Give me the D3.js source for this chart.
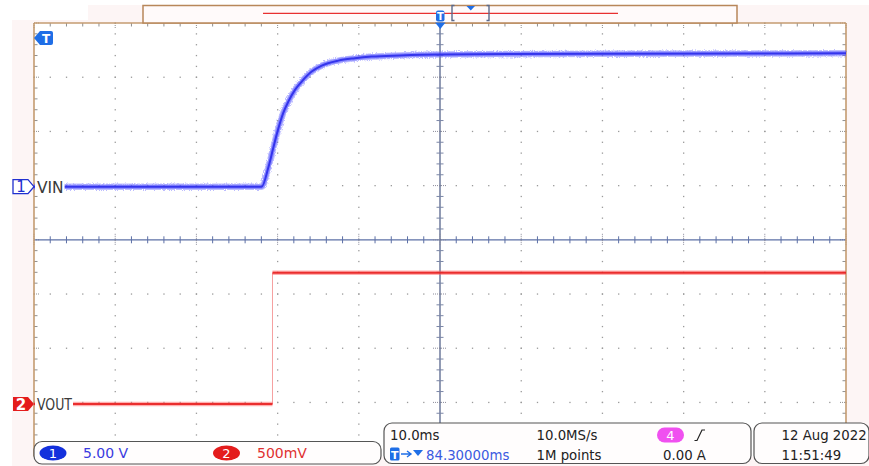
<!DOCTYPE html>
<html>
<head>
<meta charset="utf-8">
<script src="https://cdn.jsdelivr.net/npm/d3@7"></script>
<style>
  html, body { margin: 0; padding: 0; background: #ffffff; }
  svg { display: block; font-family: "DejaVu Sans", sans-serif; }
</style>
</head>
<body>
<svg id="scope" width="869" height="466"></svg>
<script>
// Acquisition window (ms): 10 ms/div, centre at 84.3 ms after trigger
const timeWindow = [34.3, 134.3];

// Channel 1 – VIN (5.00 V/div)
const vinTime  = [34.3, 62.34, 63.15, 63.77, 64.31, 65.0, 65.62, 66.44, 67.27, 68.5, 69.73, 71.78, 73.83, 75.89, 79.37, 84.3, 104.0, 134.3];
const vinVolts = [0, 0, 1.74, 3.59, 5.15, 6.81, 7.85, 8.93, 9.70, 10.62, 11.17, 11.63, 11.85, 12.0, 12.11, 12.2, 12.27, 12.3];

// Channel 2 – VOUT (500 mV/div)
const voutTime  = [34.3, 63.67, 63.67, 134.3];
const voutVolts = [0, 0, 1.21, 1.21];

// Channel names, scales and readouts
const channelNames  = ["VIN", "VOUT"];
const channelScales = ["5.00 V", "500mV"];
const voltsPerDiv   = [5, 0.5];
const channelOffset = [0.98, -3.03];   // divisions from centre

const timebaseText = ["10.0ms", "10.0MS/s"];
const delayText    = "84.30000ms";
const recordText   = "1M points";
const ch4Text      = "0.00 A";
const dateText     = ["12 Aug 2022", "11:51:49"];

const svg = d3.select("#scope");

// Graticule geometry: 10 x 8 divisions
const gLeft = 34, gRight = 846, gTop = 23, gBottom = 456.6;
const xDiv = d3.scaleLinear().domain([0, 10]).range([gLeft, gRight]);
const yDiv = d3.scaleLinear().domain([-4, 4]).range([gBottom, gTop]);
const x = d3.scaleLinear().domain(timeWindow).range([gLeft, gRight]);
const yCh = (ch) => (v) => yDiv(channelOffset[ch] + v / voltsPerDiv[ch]);

// Outer frame tint
svg.append("path")
  .attr("d", "M88,5 L869,5 L869,466 L12,466 L12,20 L88,20 Z")
  .attr("fill", "#fdf5f5");
svg.append("rect").attr("x", gLeft).attr("y", gTop)
  .attr("width", gRight - gLeft).attr("height", gBottom - gTop)
  .attr("fill", "#ffffff");

// Grid dots along the major divisions
const grid = svg.append("g");
const dotColor = "#9a9a9a";
for (let k = 1; k < 10; k++) {
  if (k === 5) continue;
  for (let j = 0; j <= 40; j++) {
    grid.append("rect").attr("x", xDiv(k) - 0.6).attr("y", yDiv(-4 + j / 5) - 0.6)
      .attr("width", 1.3).attr("height", 1.3).attr("fill", dotColor);
  }
}
for (let r = -3; r <= 3; r++) {
  if (r === 0) continue;
  for (let i = 0; i <= 50; i++) {
    grid.append("rect").attr("x", xDiv(i / 5) - 0.6).attr("y", yDiv(r) - 0.6)
      .attr("width", 1.3).attr("height", 1.3).attr("fill", dotColor);
  }
}

// Border ticks
const tickColor = "#8f8f8f";
for (let i = 0; i <= 50; i++) {
  const major = i % 5 === 0;
  grid.append("line").attr("x1", xDiv(i / 5)).attr("x2", xDiv(i / 5))
    .attr("y1", gTop).attr("y2", gTop + (major ? 6 : 3.5))
    .attr("stroke", tickColor).attr("stroke-width", 1)
    .attr("stroke-dasharray", major ? "1,1" : null);
}
for (let j = 0; j <= 40; j++) {
  const yy = yDiv(-4 + j / 5);
  const major = j % 5 === 0;
  grid.append("line").attr("x1", gLeft).attr("x2", gLeft + (major ? 6 : 3.5))
    .attr("y1", yy).attr("y2", yy).attr("stroke", tickColor).attr("stroke-width", 1)
    .attr("stroke-dasharray", major ? "1,1" : null);
  grid.append("line").attr("x1", gRight - (major ? 6 : 3.5)).attr("x2", gRight)
    .attr("y1", yy).attr("y2", yy).attr("stroke", tickColor).attr("stroke-width", 1)
    .attr("stroke-dasharray", major ? "1,1" : null);
}

// Centre axes with minor ticks
const axisColor = "#5d70a6";
const cx = xDiv(5), cy = yDiv(0);
grid.append("line").attr("x1", gLeft).attr("x2", gRight).attr("y1", cy).attr("y2", cy)
  .attr("stroke", axisColor).attr("stroke-width", 1.2);
grid.append("line").attr("x1", cx).attr("x2", cx).attr("y1", gTop).attr("y2", gBottom)
  .attr("stroke", "#56658c").attr("stroke-width", 1.3);
for (let i = 0; i <= 50; i++) {
  const major = i % 5 === 0;
  grid.append("line").attr("x1", xDiv(i / 5)).attr("x2", xDiv(i / 5))
    .attr("y1", cy - (major ? 6 : 3.5)).attr("y2", cy + (major ? 6 : 3.5))
    .attr("stroke", major ? "#8a8a9a" : axisColor).attr("stroke-width", 1)
    .attr("stroke-dasharray", major ? "1,1" : null);
}
for (let j = 0; j <= 40; j++) {
  const yy = yDiv(-4 + j / 5);
  const major = j % 5 === 0;
  grid.append("line").attr("x1", cx - (major ? 7 : 3.5)).attr("x2", cx + (major ? 7 : 3.5))
    .attr("y1", yy).attr("y2", yy)
    .attr("stroke", major ? "#8a8a9a" : "#7a86a6").attr("stroke-width", 1)
    .attr("stroke-dasharray", major ? "1,1" : null);
}

// Graticule border
const frameColor = "#c49b70";
svg.append("line").attr("x1", gLeft).attr("x2", gRight).attr("y1", gTop).attr("y2", gTop)
  .attr("stroke", frameColor).attr("stroke-width", 1.6);
svg.append("line").attr("x1", gLeft).attr("x2", gLeft).attr("y1", gTop).attr("y2", gBottom)
  .attr("stroke", frameColor).attr("stroke-width", 1.6);
svg.append("line").attr("x1", gRight).attr("x2", gRight).attr("y1", gTop).attr("y2", gBottom)
  .attr("stroke", frameColor).attr("stroke-width", 1.6);

// Noisy trace texture
const defs = svg.append("defs");
const f = defs.append("filter").attr("id", "grain").attr("x", "-5%").attr("y", "-20%")
  .attr("width", "110%").attr("height", "140%");
f.append("feTurbulence").attr("type", "fractalNoise").attr("baseFrequency", "1.1 0.7")
  .attr("numOctaves", 1).attr("seed", 3).attr("result", "n");
f.append("feDisplacementMap").attr("in", "SourceGraphic").attr("in2", "n")
  .attr("scale", 4.5).attr("xChannelSelector", "R").attr("yChannelSelector", "G");

// Draw a trace: horizontal/ramp segments thick, instantaneous steps as a thin line
function drawTrace(times, volts, ch, core, halo, stepColor) {
  const yS = yCh(ch);
  const pts = times.map((t, i) => [x(t), yS(volts[i])]);
  const pieces = [];
  let cur = [pts[0]];
  for (let i = 1; i < pts.length; i++) {
    if (times[i] === times[i - 1]) {
      svg.append("line").attr("x1", pts[i - 1][0]).attr("x2", pts[i][0])
        .attr("y1", pts[i - 1][1]).attr("y2", pts[i][1])
        .attr("stroke", stepColor).attr("stroke-width", 1);
      pieces.push(cur); cur = [pts[i]];
    } else cur.push(pts[i]);
  }
  pieces.push(cur);
  const line = d3.line().curve(d3.curveMonotoneX);
  const g = svg.append("g");
  pieces.forEach(p => {
    g.append("path").attr("d", line(p)).attr("fill", "none")
      .attr("stroke", halo).attr("stroke-width", 6.5).attr("stroke-opacity", 0.4)
      .attr("filter", "url(#grain)");
    g.append("path").attr("d", line(p)).attr("fill", "none")
      .attr("stroke", halo).attr("stroke-width", 4.5).attr("stroke-opacity", 0.5);
    g.append("path").attr("d", line(p)).attr("fill", "none")
      .attr("stroke", core).attr("stroke-width", 2).attr("stroke-opacity", 0.9);
  });
}
drawTrace(vinTime, vinVolts, 0, "#2a2aea", "#5c5cff", "#9a9aff");
drawTrace(voutTime, voutVolts, 1, "#e82020", "#ff6060", "#f6a0a0");

// Channel labels with white backing, and ground markers
const labelWidths = [26.6, 35];
[[0, "#2030d0"], [1, "#e41c1c"]].forEach(([ch, col]) => {
  const yy = yCh(ch)(0);
  svg.append("rect").attr("x", 35).attr("y", yy - 8)
    .attr("width", labelWidths[ch] + 3).attr("height", 16).attr("fill", "#ffffff");
  svg.append("text").attr("x", 37).attr("y", yy + 6)
    .attr("font-size", 16).attr("fill", "#3a3a3a")
    .attr("textLength", labelWidths[ch]).attr("lengthAdjust", "spacingAndGlyphs")
    .text(channelNames[ch]);
  const mk = svg.append("g");
  const shape = `M13,${yy - 7} L28,${yy - 7} L34,${yy} L28,${yy + 7} L13,${yy + 7} Z`;
  if (ch === 0) {
    mk.append("path").attr("d", shape).attr("fill", "#ffffff").attr("stroke", col).attr("stroke-width", 1.3);
    mk.append("text").attr("x", 21).attr("y", yy + 5.5).attr("text-anchor", "middle")
      .attr("font-size", 15).attr("fill", col).text("1");
  } else {
    mk.append("path").attr("d", shape).attr("fill", col);
    mk.append("text").attr("x", 21).attr("y", yy + 5.5).attr("text-anchor", "middle")
      .attr("font-size", 15).attr("font-weight", "bold").attr("fill", "#fff").text("2");
  }
});

// Trigger level marker (left)
const trigBlue = "#1f6ee6";
svg.append("path").attr("d", "M34,38 L40,31 L51,31 Q53,31 53,33 L53,43 Q53,45 51,45 L40,45 Z")
  .attr("fill", trigBlue);
svg.append("text").attr("x", 46).attr("y", 43).attr("text-anchor", "middle")
  .attr("font-size", 12).attr("font-weight", "bold").attr("fill", "#fff").text("T");

// Record overview bar
svg.append("rect").attr("x", 143).attr("y", 5.5).attr("width", 594).attr("height", 17.5)
  .attr("fill", "#fffafa").attr("stroke", "#b8875a").attr("stroke-width", 1.5);
svg.append("line").attr("x1", 263).attr("x2", 618).attr("y1", 13.3).attr("y2", 13.3)
  .attr("stroke", "#e83030").attr("stroke-width", 1.3);
svg.append("path").attr("d", "M454.5,5.5 L452,5.5 L452,20.5 L454.5,20.5 M486.5,5.5 L489,5.5 L489,20.5 L486.5,20.5")
  .attr("fill", "none").attr("stroke", "#5b6a8a").attr("stroke-width", 1.4);
svg.append("path").attr("d", "M466.5,6 L475,6 L470.8,10.5 Z").attr("fill", trigBlue);

// Trigger position marker (top)
svg.append("rect").attr("x", 436).attr("y", 10.5).attr("width", 8.5).attr("height", 11)
  .attr("rx", 2).attr("fill", trigBlue);
svg.append("text").attr("x", 440.3).attr("y", 20).attr("text-anchor", "middle")
  .attr("font-size", 10).attr("font-weight", "bold").attr("fill", "#fff").text("T");
svg.append("path").attr("d", "M435,22.5 L445.5,22.5 L440.3,29 Z").attr("fill", trigBlue);

// Status panels
const panel = (x0, y0, w, h) => svg.append("rect").attr("x", x0).attr("y", y0)
  .attr("width", w).attr("height", h).attr("rx", 8)
  .attr("fill", "#fffdfd").attr("stroke", "#555").attr("stroke-width", 1.2);
panel(34, 441.5, 347, 22.5);
panel(384, 423, 367, 40.5);
panel(754, 423, 115, 40.5);

// Channel scale readouts
svg.append("ellipse").attr("cx", 53).attr("cy", 453).attr("rx", 13.5).attr("ry", 7.5).attr("fill", "#1430dc");
svg.append("text").attr("x", 53).attr("y", 458).attr("text-anchor", "middle")
  .attr("font-size", 13).attr("fill", "#fff").text("1");
svg.append("text").attr("x", 83).attr("y", 458).attr("font-size", 14).attr("fill", "#3a3ae0").text(channelScales[0]);
svg.append("ellipse").attr("cx", 226.5).attr("cy", 453).attr("rx", 13.5).attr("ry", 7.5).attr("fill", "#e41c1c");
svg.append("text").attr("x", 226.5).attr("y", 458).attr("text-anchor", "middle")
  .attr("font-size", 13).attr("fill", "#fff").text("2");
svg.append("text").attr("x", 257).attr("y", 458).attr("font-size", 14).attr("fill", "#e03030").text(channelScales[1]);

// Timebase panel
const fs = 13.3;
svg.append("text").attr("x", 390).attr("y", 439.5).attr("font-size", fs).attr("fill", "#222").text(timebaseText[0]);
svg.append("text").attr("x", 536.5).attr("y", 439.5).attr("font-size", fs).attr("fill", "#222").text(timebaseText[1]);
svg.append("rect").attr("x", 390).attr("y", 447.5).attr("width", 9.5).attr("height", 13).attr("rx", 1.5).attr("fill", trigBlue);
svg.append("text").attr("x", 394.8).attr("y", 458.5).attr("text-anchor", "middle")
  .attr("font-size", 11).attr("font-weight", "bold").attr("fill", "#fff").text("T");
svg.append("path").attr("d", "M401,454 L410,454 M407,451 L411,454 L407,457")
  .attr("fill", "none").attr("stroke", trigBlue).attr("stroke-width", 1.4);
svg.append("path").attr("d", "M413,450 L423,450 L418,456 Z").attr("fill", trigBlue);
svg.append("text").attr("x", 426).attr("y", 459.5).attr("font-size", fs).attr("fill", "#3a5ae0").text(delayText);
svg.append("text").attr("x", 536.5).attr("y", 459.5).attr("font-size", fs).attr("fill", "#222").text(recordText);
svg.append("rect").attr("x", 657).attr("y", 427.5).attr("width", 27).attr("height", 15).attr("rx", 7.5).attr("fill", "#f050f0");
svg.append("text").attr("x", 670.5).attr("y", 439.5).attr("text-anchor", "middle")
  .attr("font-size", 13).attr("fill", "#fff").text("4");
svg.append("path").attr("d", "M694.5,440.5 L697,440.5 L702,430 L705,430")
  .attr("fill", "none").attr("stroke", "#222").attr("stroke-width", 1.2);
svg.append("text").attr("x", 663).attr("y", 459.5).attr("font-size", fs).attr("fill", "#222").text(ch4Text);

// Date panel
svg.append("text").attr("x", 781.5).attr("y", 439.5).attr("font-size", fs).attr("fill", "#222").text(dateText[0]);
svg.append("text").attr("x", 781.5).attr("y", 459.5).attr("font-size", fs).attr("fill", "#222").text(dateText[1]);
</script>
</body>
</html>
